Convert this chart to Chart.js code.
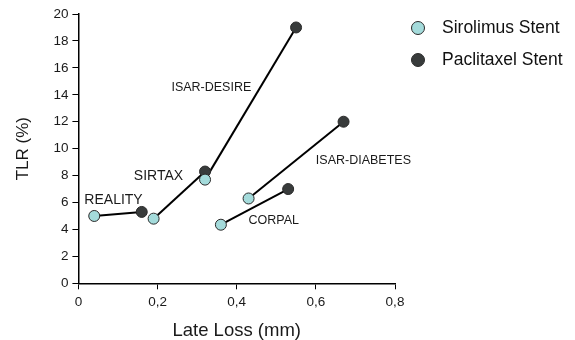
<!DOCTYPE html>
<html>
<head>
<meta charset="utf-8">
<script src="https://cdn.jsdelivr.net/npm/chart.js@4/dist/chart.umd.min.js"></script>
<style>
  html, body { margin: 0; padding: 0; background: #fff; }
  #wrap { width: 575px; height: 340px; }
</style>
</head>
<body>
<div id="wrap"><canvas id="c" width="575" height="340"></canvas></div>
<script>
// Late loss (mm) and target lesion revascularisation (%) per trial
const trials = ['REALITY', 'SIRTAX', 'ISAR-DESIRE', 'ISAR-DIABETES', 'CORPAL'];
const sirolimusLateLoss = [0.04, 0.19, 0.32, 0.43, 0.36];
const sirolimusTLR = [5.0, 4.8, 7.7, 6.3, 4.35];
const paclitaxelLateLoss = [0.16, 0.32, 0.55, 0.67, 0.53];
const paclitaxelTLR = [5.3, 8.3, 19.0, 12.0, 7.0];
const xTickLabels = ['0', '0,2', '0,4', '0,6', '0,8'];
const yTickLabels = ['0', '2', '4', '6', '8', '10', '12', '14', '16', '18', '20'];

// where each trial name sits, in axis units (left edge, vertical middle)
const trialLabelAnchors = {
  'REALITY':       { x: 0.015, y: 6.2,  size: 14 },
  'SIRTAX':        { x: 0.14,  y: 7.95, size: 14 },
  'ISAR-DESIRE':   { x: 0.235, y: 14.55, size: 12.5 },
  'ISAR-DIABETES': { x: 0.60,  y: 9.1,  size: 12.5 },
  'CORPAL':        { x: 0.43,  y: 4.63, size: 12.5 }
};

const FONT = "'Liberation Sans', Arial, Helvetica, sans-serif";
const SIRO_FILL = '#a4dbdb';
const PACLI_FILL = '#383b3b';
const EDGE = '#2a2a2a';

const toPoints = (xs, ys) => xs.map((x, i) => ({ x: x, y: ys[i] }));

const datasets = [
  {
    label: 'Sirolimus Stent',
    data: toPoints(sirolimusLateLoss, sirolimusTLR),
    showLine: false,
    pointRadius: 5.5,
    pointBackgroundColor: SIRO_FILL,
    pointBorderColor: EDGE,
    pointBorderWidth: 1,
    order: 0
  },
  {
    label: 'Paclitaxel Stent',
    data: toPoints(paclitaxelLateLoss, paclitaxelTLR),
    showLine: false,
    pointRadius: 5.5,
    pointBackgroundColor: PACLI_FILL,
    pointBorderColor: EDGE,
    pointBorderWidth: 1,
    order: 1
  }
];

// one connecting segment per trial, from the sirolimus to the paclitaxel result
trials.forEach((name, i) => {
  datasets.push({
    label: name,
    isConnector: true,
    data: [
      { x: sirolimusLateLoss[i], y: sirolimusTLR[i] },
      { x: paclitaxelLateLoss[i], y: paclitaxelTLR[i] }
    ],
    showLine: true,
    borderColor: '#000',
    borderWidth: 2,
    pointRadius: 0,
    order: 2
  });
});

// trial names placed next to their segments
const trialNames = {
  id: 'trialNames',
  afterDatasetsDraw(chart) {
    const { ctx, scales } = chart;
    ctx.save();
    ctx.fillStyle = '#1a1a1a';
    ctx.textAlign = 'left';
    ctx.textBaseline = 'middle';
    trials.forEach(name => {
      const a = trialLabelAnchors[name];
      ctx.font = a.size + 'px ' + FONT;
      ctx.fillText(name, scales.x.getPixelForValue(a.x), scales.y.getPixelForValue(a.y));
    });
    ctx.restore();
  }
};

// legend with the two stent types at the upper right
const stentLegend = {
  id: 'stentLegend',
  afterDraw(chart) {
    const { ctx } = chart;
    const items = chart.data.datasets.filter(d => !d.isConnector);
    ctx.save();
    ctx.font = '17.5px ' + FONT;
    ctx.textAlign = 'left';
    ctx.textBaseline = 'middle';
    items.forEach((d, i) => {
      const cy = 28 + i * 32;
      ctx.beginPath();
      ctx.arc(418, cy, 6.5, 0, Math.PI * 2);
      ctx.fillStyle = d.pointBackgroundColor;
      ctx.fill();
      ctx.lineWidth = 1;
      ctx.strokeStyle = d.pointBorderColor;
      ctx.stroke();
      ctx.fillStyle = '#111';
      ctx.fillText(d.label, 442, cy);
    });
    ctx.restore();
  }
};

new Chart(document.getElementById('c'), {
  type: 'scatter',
  data: { datasets: datasets },
  plugins: [trialNames, stentLegend],
  options: {
    responsive: false,
    animation: false,
    layout: { padding: { left: 13, right: 180, top: 14, bottom: 0 } },
    plugins: {
      legend: { display: false },
      tooltip: { enabled: false }
    },
    scales: {
      x: {
        type: 'linear',
        min: 0,
        max: 0.8,
        ticks: {
          stepSize: 0.2,
          padding: 5,
          color: '#1a1a1a',
          font: { family: FONT, size: 13.5 },
          callback: (v, i) => xTickLabels[i]
        },
        grid: { drawOnChartArea: false, drawTicks: true, tickLength: 6, color: '#000', tickWidth: 1 },
        border: { display: true, color: '#000', width: 1.5 },
        title: {
          display: true,
          text: 'Late Loss (mm)',
          color: '#1a1a1a',
          font: { family: FONT, size: 18.5, lineHeight: 1 },
          padding: { top: 6, bottom: 0 }
        }
      },
      y: {
        type: 'linear',
        min: 0,
        max: 20,
        ticks: {
          stepSize: 2,
          padding: 4,
          color: '#1a1a1a',
          font: { family: FONT, size: 13.5 },
          callback: (v, i) => yTickLabels[i]
        },
        grid: { drawOnChartArea: false, drawTicks: true, tickLength: 6, color: '#000', tickWidth: 1 },
        border: { display: true, color: '#000', width: 1.5 },
        title: {
          display: true,
          text: 'TLR (%)',
          color: '#1a1a1a',
          font: { family: FONT, size: 17 },
          padding: { top: 0, bottom: 16 }
        }
      }
    }
  }
});
</script>
</body>
</html>
